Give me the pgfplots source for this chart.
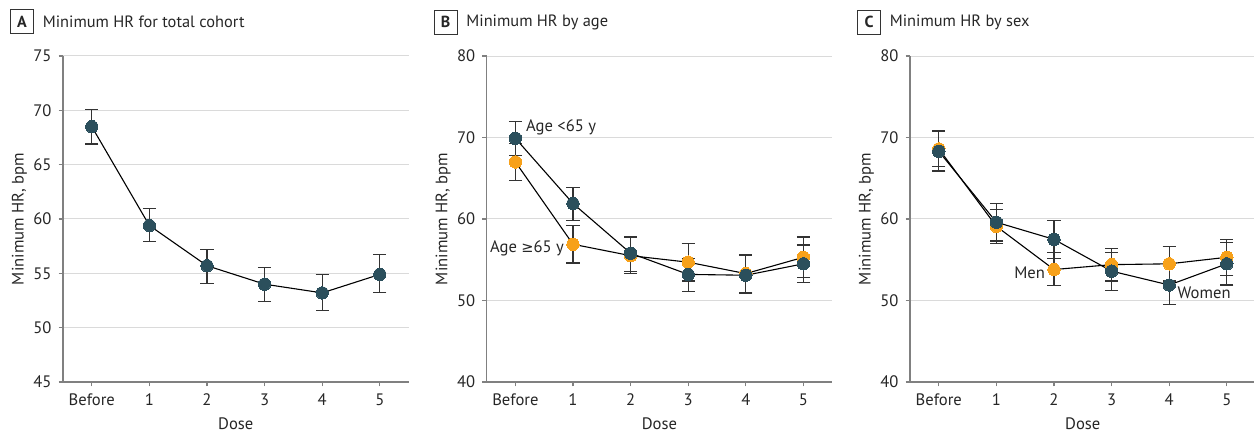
\documentclass[border=0pt]{standalone}
\usepackage{fontspec}
\setmainfont{PT Sans}
\newfontfamily\dejavu{DejaVu Sans}
\usepackage{pgfplots}
\pgfplotsset{compat=1.18}
\definecolor{darkteal}{HTML}{2B4F5C}
\definecolor{orangeM}{HTML}{F7A11A}
\definecolor{axgray}{HTML}{808080}
\definecolor{gridgray}{HTML}{DADADA}
\definecolor{errgray}{HTML}{333333}

\pgfplotstableread{
x y ep em
0 68.5 1.6 1.6
1 59.4 1.6 1.5
2 55.7 1.5 1.6
3 54.0 1.5 1.6
4 53.2 1.7 1.6
5 54.9 1.8 1.7
}\totaldata

\pgfplotstableread{
x y ep em
0 69.9 2.1 2.1
1 61.9 2.0 2.1
2 55.8 2.0 2.2
3 53.2 2.0 2.1
4 53.1 2.4 2.2
5 54.5 2.3 2.3
}\ageyoung

\pgfplotstableread{
x y ep em
0 67.0 2.3 2.3
1 56.9 2.3 2.3
2 55.5 2.3 2.2
3 54.7 2.3 2.3
4 53.3 2.3 2.3
5 55.3 2.5 2.5
}\ageold

\pgfplotstableread{
x y ep em
0 68.3 2.4 2.4
1 59.6 2.3 2.3
2 57.5 2.3 2.3
3 53.6 2.3 2.4
4 51.9 2.4 2.4
5 54.5 2.6 2.6
}\women

\pgfplotstableread{
x y ep em
0 68.6 2.2 2.2
1 59.1 2.1 2.1
2 53.8 2.1 2.0
3 54.4 2.0 2.0
4 54.5 2.1 2.1
5 55.3 2.2 2.2
}\men

\newcommand{\lblfont}{\fontsize{8.3}{10}\selectfont}

\pgfplotsset{
  jama/.style={
    scale only axis,
    width=172.8pt, height=163pt,
    anchor=south west,
    xmin=-0.5, xmax=5.5,
    xtick={0,1,2,3,4,5},
    xticklabels={Before,1,2,3,4,5},
    axis x line*=bottom, axis y line*=left,
    axis line style={axgray, line width=0.6pt, -},
    tick style={axgray, line width=0.6pt},
    major tick length=2.2pt,
    tick align=outside,
    ymajorgrids,
    grid style={gridgray, line width=0.5pt},
    /pgf/number format/assume math mode=true,
    tick label style={font=\lblfont, text=black!85},
    xlabel={Dose},
    ylabel={Minimum HR, bpm},
    every axis x label/.style={at={(axis description cs:0.5,-0.127)}, anchor=center, font=\lblfont, text=black!85},
    every axis y label/.style={at={(axis description cs:-0.126,0.5)}, anchor=center, rotate=90, font=\lblfont, text=black!85},
    clip=false,
  },
  lineerr/.style={
    black, line width=0.55pt, mark=none,
    error bars/.cd, y dir=both, y explicit,
    error bar style={errgray, line width=0.6pt},
    error mark options={rotate=90, mark size=3.3pt, errgray, line width=0.6pt},
  },
  dots/.style={
    only marks, mark=*, mark size=3.1pt,
    mark options={solid, fill=#1, draw=#1, line width=0pt},
  },
}

\newcommand{\paneltitle}[2]{%
  \node[draw=black!80, line width=0.5pt, minimum width=11.5pt, minimum height=12pt, inner sep=0pt,
        font=\fontsize{8}{9}\selectfont\bfseries, text=black!85]
    at ([xshift=-20.5pt,yshift=17pt]rel axis cs:0,1) {#1};
  \node[anchor=west, inner sep=0pt, font=\fontsize{8.2}{9}\selectfont, text=black!85]
    at ([xshift=-10.3pt,yshift=17pt]rel axis cs:0,1) {#2};
}

\begin{document}
\begin{tikzpicture}
\useasboundingbox (0,0) rectangle (627pt,216pt);

% Panel A
\begin{axis}[jama, at={(31.5pt,25pt)}, ymin=45, ymax=75, ytick={45,50,55,60,65,70,75}]
  \addplot[lineerr] table[x=x, y=y, y error plus=ep, y error minus=em] {\totaldata};
  \addplot[dots=darkteal] table[x=x, y=y] {\totaldata};
  \paneltitle{A}{Minimum HR for total cohort}
\end{axis}

% Panel B
\begin{axis}[jama, at={(243.3pt,25pt)}, ymin=40, ymax=80, ytick={40,50,60,70,80}]
  \addplot[lineerr] table[x=x, y=y, y error plus=ep, y error minus=em] {\ageold};
  \addplot[lineerr] table[x=x, y=y, y error plus=ep, y error minus=em] {\ageyoung};
  \addplot[dots=orangeM] table[x=x, y=y] {\ageold};
  \addplot[dots=darkteal] table[x=x, y=y] {\ageyoung};
  \node[anchor=west, font=\lblfont, text=black!85, inner sep=0pt] at (axis cs:0.18,71.3) {Age <65 y};
  \node[anchor=east, font=\lblfont, text=black!85, inner sep=0pt] at (axis cs:0.85,56.4) {Age {\dejavu\fontsize{7.3}{9}\selectfont ≥}65 y};
  \paneltitle{B}{Minimum HR by age}
\end{axis}

% Panel C
\begin{axis}[jama, at={(455pt,25pt)}, ymin=40, ymax=80, ytick={40,50,60,70,80}]
  \addplot[lineerr] table[x=x, y=y, y error plus=ep, y error minus=em] {\men};
  \addplot[lineerr] table[x=x, y=y, y error plus=ep, y error minus=em] {\women};
  \addplot[dots=orangeM] table[x=x, y=y] {\men};
  \addplot[dots=darkteal] table[x=x, y=y] {\women};
  \node[anchor=east, font=\lblfont, text=black!85, inner sep=0pt] at (axis cs:1.85,53.4) {Men};
  \node[anchor=west, font=\lblfont, text=black!85, inner sep=0pt] at (axis cs:4.14,50.9) {Women};
  \paneltitle{C}{Minimum HR by sex}
\end{axis}
\end{tikzpicture}
\end{document}
